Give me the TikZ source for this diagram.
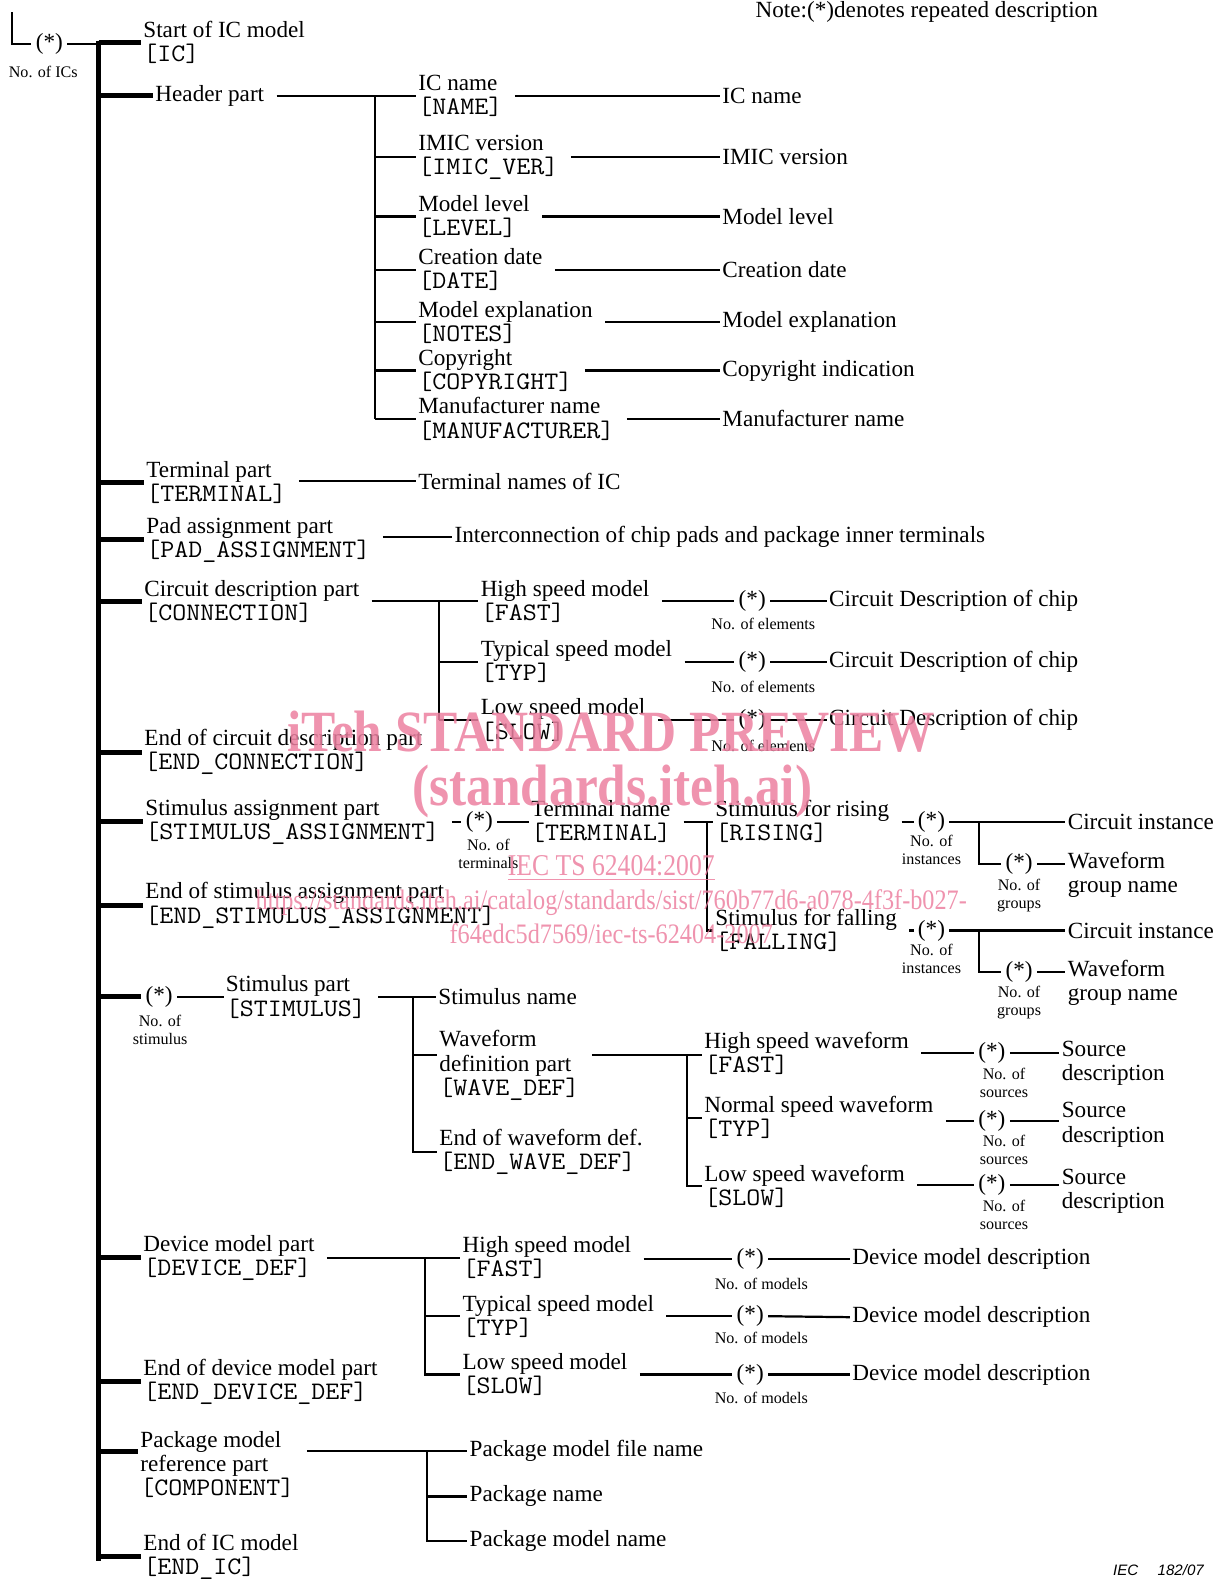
\documentclass[tikz,border=0pt]{standalone}
\usepackage{fontspec}
\setmainfont{Liberation Serif}
\setsansfont{Liberation Sans}
\setmonofont[FakeStretch=1.08]{Latin Modern Mono}
\newcommand{\kw}[1]{{\ttfamily\fontsize{12.5}{12}\selectfont #1}}
\definecolor{wmpink}{RGB}{236,128,160}

\begin{document}
\begin{tikzpicture}[x=0.5pt,y=-0.5pt,
  lbl/.style={anchor=west, align=left, inner sep=1pt, font=\fontsize{11.5}{12}\selectfont},
  rep/.style={inner xsep=2pt, inner ysep=1pt, font=\fontsize{11.5}{12}\selectfont},
  cnt/.style={align=center, inner sep=0pt, font=\fontsize{8}{9}\selectfont},
  bar/.style={draw, line width=2.5pt},
  wire/.style={draw, line width=1.1pt},
  lgap/.style={shorten <=5pt},
  wm/.style={text=wmpink, opacity=0.85, inner sep=0pt}]
\useasboundingbox (0,0) rectangle (1213,1568);

% repeat of the whole model
\coordinate (ltop) at (12,12);
\node[rep] (nic) at (49,44) {(*)};
\node[cnt] (nicn) at (43,71) {No. of ICs};
\coordinate (ttop) at (98,43);
\coordinate (tbot) at (98,1548);
\path[wire] (ltop) |- (nic.west);
\path[wire] (nic.east) -- (nic.east -| ttop);
\path[bar,line cap=rect] (ttop) -- (tbot);

\node[lbl] (note) at (748,12) {Note:(*)denotes repeated description};

% main parts
\node[lbl] (start) at (140,42) {Start of IC model\\\kw{[IC]}};
\node[lbl] (header) at (152,95) {Header part};
\node[lbl] (term) at (143,479) {Terminal part\\\kw{[TERMINAL]}};
\node[lbl] (pad) at (143,536) {Pad assignment part\\\kw{[PAD\_ASSIGNMENT]}};
\node[lbl] (conn) at (141,597) {Circuit description part\\\kw{[CONNECTION]}};
\node[lbl] (endconn) at (141,747) {End of circuit description part\\\kw{[END\_CONNECTION]}};
\node[lbl] (stasg) at (142,816) {Stimulus assignment part\\\kw{[STIMULUS\_ASSIGNMENT]}};
\node[lbl] (endstasg) at (142,899) {End of stimulus assignment part\\\kw{[END\_STIMULUS\_ASSIGNMENT]}};
\node[rep] (stimr) at (158,990) {(*)};
\node[cnt] (stimn) at (159,1023) {No. of\\stimulus};
\node[lbl] (dev) at (140,1249) {Device model part\\\kw{[DEVICE\_DEF]}};
\node[lbl] (enddev) at (140,1372) {End of device model part\\\kw{[END\_DEVICE\_DEF]}};
\node[lbl] (pkg) at (137,1454) {Package model\\reference part\\\kw{[COMPONENT]}};
\node[lbl] (endic) at (140,1546) {End of IC model\\\kw{[END\_IC]}};

\path[bar] (start.west -| ttop) -- (start.west);
\path[bar] (header.west -| ttop) -- (header.west);
\path[bar] (term.west -| ttop) -- (term.west);
\path[bar] (pad.west -| ttop) -- (pad.west);
\path[bar] (conn.west -| ttop) -- (conn.west);
\path[bar] (endconn.west -| ttop) -- (endconn.west);
\path[bar] (stasg.west -| ttop) -- (stasg.west);
\path[bar] (endstasg.west -| ttop) -- (endstasg.west);
\path[bar] (stimr.west -| ttop) -- (stimr.west);
\path[bar] (dev.west -| ttop) -- (dev.west);
\path[bar] (enddev.west -| ttop) -- (enddev.west);
\path[bar] ([yshift=6.5pt]pkg.west -| ttop) -- ([yshift=6.5pt]pkg.west);
\path[bar] (endic.west -| ttop) -- (endic.west);

% header part
\coordinate (hb) at (372,95);
\node[lbl] (icname) at (413,95) {IC name\\\kw{[NAME]}};
\node[lbl] (imic) at (413,156) {IMIC version\\\kw{[IMIC\_VER]}};
\node[lbl] (level) at (413,215) {Model level\\\kw{[LEVEL]}};
\node[lbl] (date) at (413,268) {Creation date\\\kw{[DATE]}};
\node[lbl] (notes) at (413,320) {Model explanation\\\kw{[NOTES]}};
\node[lbl] (copyr) at (413,368) {Copyright\\\kw{[COPYRIGHT]}};
\node[lbl] (manuf) at (413,416) {Manufacturer name\\\kw{[MANUFACTURER]}};
\node[lbl] (icnamet) at (715,95) {IC name};
\node[lbl] (imict) at (715,156) {IMIC version};
\node[lbl] (levelt) at (715,215) {Model level};
\node[lbl] (datet) at (715,268) {Creation date};
\node[lbl] (notest) at (715,320) {Model explanation};
\node[lbl] (copyrt) at (715,368) {Copyright indication};
\node[lbl] (manuft) at (715,416) {Manufacturer name};

\path[wire,lgap] (header.east) -- (icname.west);
\path[wire] (hb) -- (manuf.west -| hb);
\path[wire] (imic.west -| hb) -- (imic.west);
\path[wire] (level.west -| hb) -- (level.west);
\path[wire] (date.west -| hb) -- (date.west);
\path[wire] (notes.west -| hb) -- (notes.west);
\path[wire] (copyr.west -| hb) -- (copyr.west);
\path[wire] (manuf.west -| hb) -- (manuf.west);
\path[wire,lgap] (icname.east) -- (icnamet.west);
\path[wire,lgap] (imic.east) -- (imict.west);
\path[wire,lgap] (level.east) -- (levelt.west);
\path[wire,lgap] (date.east) -- (datet.west);
\path[wire,lgap] (notes.east) -- (notest.west);
\path[wire,lgap] (copyr.east) -- (copyrt.west);
\path[wire,lgap] (manuf.east) -- (manuft.west);

% terminal and pad parts
\node[lbl] (termt) at (413,478) {Terminal names of IC};
\node[lbl] (padt) at (449,533) {Interconnection of chip pads and package inner terminals};
\path[wire,lgap] (term.east |- termt) -- (termt.west);
\path[wire,lgap] (pad.east |- padt) -- (padt.west);

% circuit description part
\coordinate (cb) at (436,597);
\node[lbl] (cfast) at (475,597) {High speed model\\\kw{[FAST]}};
\node[lbl] (ctyp) at (475,657) {Typical speed model\\\kw{[TYP]}};
\node[lbl] (cslow) at (475,715) {Low speed model\\\kw{[SLOW]}};
\node[rep] (cfastr) at (747,597) {(*)};
\node[rep] (ctypr) at (747,657) {(*)};
\node[rep] (cslowr) at (747,715) {(*)};
\node[cnt] (cfastn) at (758,620) {No. of elements};
\node[cnt] (ctypn) at (758,682) {No. of elements};
\node[cnt] (cslown) at (758,741) {No. of elements};
\node[lbl] (cfastt) at (821,597) {Circuit Description of chip};
\node[lbl] (ctypt) at (821,657) {Circuit Description of chip};
\node[lbl] (cslowt) at (821,715) {Circuit Description of chip};

\path[wire,lgap] (conn.east) -- (cfast.west);
\path[wire] (cb) -- (cslow.west -| cb);
\path[wire] (ctyp.west -| cb) -- (ctyp.west);
\path[wire] (cslow.west -| cb) -- (cslow.west);
\path[wire,lgap] (cfast.east) -- (cfastr.west);
\path[wire,lgap] (ctyp.east) -- (ctypr.west);
\path[wire,lgap] (cslow.east) -- (cslowr.west);
\path[wire] (cfastr.east) -- (cfastt.west);
\path[wire] (ctypr.east) -- (ctypt.west);
\path[wire] (cslowr.east) -- (cslowt.west);

% stimulus assignment part
\node[rep] (stasgr) at (476,816) {(*)};
\node[cnt] (stasgn) at (485,848) {No. of\\terminals};
\node[lbl] (tname) at (525,816) {Terminal name\\\kw{[TERMINAL]}};
\coordinate (sb) at (702,816);
\node[lbl] (rise) at (708,816) {Stimulus for rising\\\kw{[RISING]}};
\node[lbl] (fall) at (708,924) {Stimulus for falling\\\kw{[FALLING]}};
\path[wire,lgap] (stasg.east) -- (stasgr.west);
\path[wire] (stasgr.east) -- (tname.west);
\path[wire,lgap] (tname.east) -- (rise.west);
\path[wire] (sb) -- (fall.west -| sb) -- (fall.west);

\node[rep] (riser) at (925,816) {(*)};
\node[cnt] (risen) at (925,844) {No. of\\instances};
\coordinate (rb) at (972,816);
\node[lbl] (risec) at (1058,816) {Circuit instance};
\node[rep] (riseg) at (1012,858) {(*)};
\node[cnt] (risegn) at (1012,889) {No. of\\groups};
\node[lbl] (risew) at (1058,869) {Waveform\\group name};
\path[wire,lgap] (rise.east) -- (riser.west);
\path[wire] (riser.east) -- (risec.west);
\path[wire] (rb) |- (riseg.west);
\path[wire] (riseg.east) -- (riseg.east -| risew.west);

\node[rep] (fallr) at (925,924) {(*)};
\node[cnt] (falln) at (925,952) {No. of\\instances};
\coordinate (fb) at (972,924);
\node[lbl] (fallc) at (1058,924) {Circuit instance};
\node[rep] (fallg) at (1012,965) {(*)};
\node[cnt] (fallgn) at (1012,996) {No. of\\groups};
\node[lbl] (fallw) at (1058,976) {Waveform\\group name};
\path[wire,lgap] (fall.east) -- (fallr.west);
\path[wire] (fallr.east) -- (fallc.west);
\path[wire] (fb) |- (fallg.west);
\path[wire] (fallg.east) -- (fallg.east -| fallw.west);

% stimulus part
\node[lbl] (stim) at (222,990) {Stimulus part\\\kw{[STIMULUS]}};
\coordinate (stb) at (410,990);
\node[lbl] (sname) at (433,990) {Stimulus name};
\node[lbl] (wdef) at (434,1058) {Waveform\\definition part\\\kw{[WAVE\_DEF]}};
\node[lbl] (wend) at (434,1144) {End of waveform def.\\\kw{[END\_WAVE\_DEF]}};
\path[wire] (stimr.east) -- (stim.west);
\path[wire,lgap] (stim.east) -- (sname.west);
\path[wire] (stb) -- (wend.west -| stb) -- (wend.west);
\path[wire] ([yshift=5pt]wdef.west -| stb) -- ([yshift=5pt]wdef.west);

\coordinate (wb) at (682,1048);
\node[lbl] (wfast) at (697,1046) {High speed waveform\\\kw{[FAST]}};
\node[lbl] (wtyp) at (697,1110) {Normal speed waveform\\\kw{[TYP]}};
\node[lbl] (wslow) at (697,1178) {Low speed waveform\\\kw{[SLOW]}};
\node[rep] (wfastr) at (985,1046) {(*)};
\node[rep] (wtypr) at (985,1113) {(*)};
\node[rep] (wslowr) at (985,1177) {(*)};
\node[cnt] (wfastn) at (997,1075) {No. of\\sources};
\node[cnt] (wtypn) at (997,1142) {No. of\\sources};
\node[cnt] (wslown) at (997,1206) {No. of\\sources};
\node[lbl] (wfasts) at (1052,1056) {Source\\description};
\node[lbl] (wtyps) at (1052,1117) {Source\\description};
\node[lbl] (wslows) at (1052,1183) {Source\\description};

\path[wire,lgap] ([yshift=5pt]wdef.east) -- ([yshift=5pt]wdef.east -| wfast.west);
\path[wire] (wb) -- (wslow.west -| wb) -- (wslow.west);
\path[wire] (wtyp.west -| wb) -- (wtyp.west);
\path[wire,lgap] (wfast.east |- wfastr) -- (wfastr.west);
\path[wire,lgap] (wtyp.east |- wtypr) -- (wtypr.west);
\path[wire,lgap] (wslow.east |- wslowr) -- (wslowr.west);
\path[wire] (wfastr.east) -- (wfastr.east -| wfasts.west);
\path[wire] (wtypr.east) -- (wtypr.east -| wtyps.west);
\path[wire] (wslowr.east) -- (wslowr.east -| wslows.west);

% device model part
\coordinate (db) at (422,1249);
\node[lbl] (dfast) at (457,1249) {High speed model\\\kw{[FAST]}};
\node[lbl] (dtyp) at (457,1307) {Typical speed model\\\kw{[TYP]}};
\node[lbl] (dslow) at (457,1365) {Low speed model\\\kw{[SLOW]}};
\node[rep] (dfastr) at (745,1250) {(*)};
\node[rep] (dtypr) at (745,1307) {(*)};
\node[rep] (dslowr) at (745,1365) {(*)};
\node[cnt] (dfastn) at (756,1275) {No. of models};
\node[cnt] (dtypn) at (756,1329) {No. of models};
\node[cnt] (dslown) at (756,1388) {No. of models};
\node[lbl] (dfastt) at (844,1250) {Device model description};
\node[lbl] (dtypt) at (844,1308) {Device model description};
\node[lbl] (dslowt) at (844,1365) {Device model description};

\path[wire,lgap] (dev.east) -- (dfast.west);
\path[wire] (db) -- (dslow.west -| db) -- (dslow.west);
\path[wire] (dtyp.west -| db) -- (dtyp.west);
\path[wire,lgap] (dfast.east |- dfastr) -- (dfastr.west);
\path[wire,lgap] (dtyp.east |- dtypr) -- (dtypr.west);
\path[wire,lgap] (dslow.east |- dslowr) -- (dslowr.west);
\path[wire] (dfastr.east) -- (dfastt.west);
\path[wire] (dtypr.east) -- (dtypt.west);
\path[wire] (dslowr.east) -- (dslowt.west);

% package model reference part
\coordinate (pb) at (424,1441);
\node[lbl] (pfile) at (464,1441) {Package model file name};
\node[lbl] (pname) at (464,1486) {Package name};
\node[lbl] (pmod) at (464,1530) {Package model name};
\path[wire,lgap] ([yshift=6.5pt]pkg.east) -- (pfile.west);
\path[wire] (pb) -- (pmod.west -| pb) -- (pmod.west);
\path[wire] (pname.west -| pb) -- (pname.west);

\node[anchor=west, inner sep=0pt, font=\sffamily\itshape\fontsize{7.5}{8}\selectfont] (iec) at (1105,1559) {IEC\quad\ 182/07};

% watermark
\node[wm, font=\bfseries\fontsize{29}{29}\selectfont] (wm1) at (607,727) {\scalebox{0.88}[1]{iTeh STANDARD PREVIEW}};
\node[wm, font=\bfseries\fontsize{29}{29}\selectfont] (wm2) at (608,786) {\scalebox{0.88}[1]{(standards.iteh.ai)}};
\node[wm, font=\fontsize{15}{15}\selectfont] (wm3) at (607,862) {\scalebox{0.85}[1]{\underline{IEC TS 62404:2007}}};
\node[wm, font=\fontsize{14}{14}\selectfont] (wm4) at (607,896) {\scalebox{0.86}[1]{https://standards.iteh.ai/catalog/standards/sist/760b77d6-a078-4f3f-b027-}};
\node[wm, font=\fontsize{14}{14}\selectfont] (wm5) at (607,927) {\scalebox{0.86}[1]{f64edc5d7569/iec-ts-62404-2007}};
\end{tikzpicture}
\end{document}
